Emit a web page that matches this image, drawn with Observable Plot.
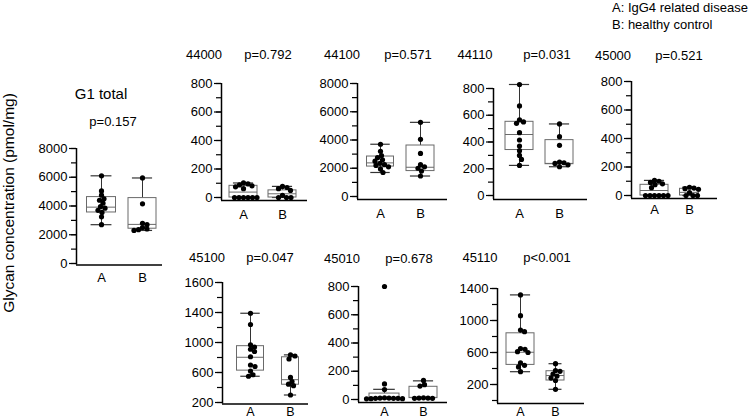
<!DOCTYPE html>
<html><head><meta charset="utf-8">
<script src="https://cdn.jsdelivr.net/npm/d3@7"></script>
<script src="https://cdn.jsdelivr.net/npm/@observablehq/plot@0.6"></script>
<style>
body{margin:0;background:#fff;font-family:"Liberation Sans",Arial,sans-serif;}
#chart{position:relative;width:750px;height:420px;overflow:hidden;background:#fff;}
#chart svg{position:absolute;left:0;top:0;}
.lbl{position:absolute;white-space:nowrap;color:#000;transform:translate(-50%,-50%);line-height:1;}
</style></head><body><div id="chart"></div>
<script>
// ---------- data ----------
const groups = ["A", "B"];
const panelNames = ["G1 total", "44000", "44100", "44110", "45000", "45100", "45010", "45110"];
const pValues = ["p=0.157", "p=0.792", "p=0.571", "p=0.031", "p=0.521", "p=0.047", "p=0.678", "p<0.001"];
const legendLines = ["A: IgG4 related disease", "B: healthy control"];
const yTitle = "Glycan concentration (pmol/mg)";

// individual points (pmol/mg)
const g1total_A = [6100, 5050, 4750, 4500, 4400, 4200, 3950, 3850, 3700, 3550, 3250, 2700];
const g1total_B = [5950, 4150, 2800, 2700, 2500, 2400, 2350, 2300];
const g44000_A = [102, 95, 88, 82, 75, 62, 0, 0, 0, 0, 0, 0];
const g44000_B = [78, 70, 62, 50, 15, 0, 0, 0];
const g44100_A = [3700, 3200, 2900, 2750, 2600, 2500, 2350, 2250, 2200, 2100, 1950, 1700];
const g44100_B = [5250, 4050, 3050, 2250, 2100, 2000, 1800, 1450];
const g44110_A = [830, 670, 565, 550, 540, 470, 415, 370, 335, 300, 270, 225];
const g44110_B = [535, 440, 375, 250, 245, 240, 230, 215];
const g45000_A = [106, 100, 92, 82, 76, 55, 0, 0, 0, 0, 0, 0];
const g45000_B = [58, 52, 48, 44, 20, 0, 0, 0];
const g45100_A = [1390, 1240, 970, 940, 910, 880, 810, 700, 680, 620, 570, 550];
const g45100_B = [835, 820, 780, 535, 480, 445, 425, 300];
const g45010_A = [800, 110, 70, 12, 10, 10, 8, 8, 8, 6, 6, 5];
const g45010_B = [135, 105, 95, 12, 10, 10, 8, 8];
const g45110_A = [1320, 1060, 880, 860, 650, 640, 610, 600, 470, 440, 420, 360];
const g45110_B = [460, 375, 365, 330, 305, 280, 250, 140];

// box statistics [whisker low, Q1, median, Q3, whisker high]
const box_g1total = [[2700, 3550, 3920, 4620, 6100], [2300, 2420, 2720, 4550, 5950]];
const box_44000 = [[0, 0, 38, 82, 102], [0, 0, 26, 50, 78]];
const box_44100 = [[1700, 2120, 2380, 2830, 3700], [1450, 1800, 2070, 3610, 5250]];
const box_44110 = [[225, 340, 456, 551, 830], [215, 234, 240, 414, 535]];
const box_45000 = [[0, 0, 35, 75, 106], [0, 0, 22, 47, 58]];
const box_45100 = [[550, 625, 803, 951, 1390], [300, 437, 504, 803, 835]];
const box_45010 = [[5, 7, 10, 42, 72], [8, 10, 15, 90, 132]];
const box_45110 = [[360, 445, 603, 840, 1320], [140, 250, 312, 366, 460]];

// y axes
const yDomain_8000 = [0, 8000];
const yDomain_800 = [0, 800];
const yDomain_45100 = [200, 1800];
const yDomain_45110 = [0, 1400];
const yTicks_8000 = [0, 1000, 2000, 3000, 4000, 5000, 6000, 7000, 8000];
const yLabels_8000 = [0, 2000, 4000, 6000, 8000];
const yTicks_800 = [0, 100, 200, 300, 400, 500, 600, 700, 800];
const yLabels_800 = [0, 200, 400, 600, 800];
const yTicks_45100 = [200, 400, 600, 800, 1000, 1200, 1400, 1600, 1800];
const yLabels_45100 = [200, 600, 1000, 1400, 1800];
const yLabelText_45100 = ["200", "600", "1000", "1400", "1600"];
const yTicks_45110 = [0, 200, 400, 600, 800, 1000, 1200, 1400];
const yLabels_45110 = [200, 600, 1000, 1400];

const panels = [
  {points: [g1total_A, g1total_B], box: box_g1total, yDomain: yDomain_8000, ticks: yTicks_8000, labels: yLabels_8000},
  {points: [g44000_A, g44000_B], box: box_44000, yDomain: yDomain_800, ticks: yTicks_800, labels: yLabels_800},
  {points: [g44100_A, g44100_B], box: box_44100, yDomain: yDomain_8000, ticks: yTicks_8000, labels: yLabels_8000},
  {points: [g44110_A, g44110_B], box: box_44110, yDomain: yDomain_800, ticks: yTicks_800, labels: yLabels_800},
  {points: [g45000_A, g45000_B], box: box_45000, yDomain: yDomain_800, ticks: yTicks_800, labels: yLabels_800},
  {points: [g45100_A, g45100_B], box: box_45100, yDomain: yDomain_45100, ticks: yTicks_45100, labels: yLabels_45100, labelText: yLabelText_45100},
  {points: [g45010_A, g45010_B], box: box_45010, yDomain: yDomain_800, ticks: yTicks_800, labels: yLabels_800},
  {points: [g45110_A, g45110_B], box: box_45110, yDomain: yDomain_45110, ticks: yTicks_45110, labels: yLabels_45110}
];

// ---------- layout (pixels) ----------
const layout = [
  {left: 76, right: 162, top: 148, bottom: 263, xA: 101, xB: 142, boxW: [29, 28], pad: 9, off: 1.5, fs: 13,
   name: [101, 93, 15], p: [113, 121]},
  {left: 221, right: 307, top: 83, bottom: 197, xA: 243, xB: 282, boxW: [28, 28], pad: 12, off: 3, fs: 13, name: [204, 54, 13], p: [268, 54]},
  {left: 357, right: 447, top: 83, bottom: 196, xA: 380, xB: 420, boxW: [27, 28], pad: 12, off: 3, fs: 13, name: [342, 54, 13], p: [408, 54]},
  {left: 493, right: 587, top: 88, bottom: 195, xA: 519, xB: 559, boxW: [28, 28], pad: 13, off: 4, fs: 13, name: [475, 54, 13], p: [547, 54]},
  {left: 631, right: 717, top: 81, bottom: 195, xA: 654, xB: 689, boxW: [28, 19], pad: 9, off: 3, fs: 13, name: [613, 55, 13], p: [679, 55]},
  {left: 222, right: 308, top: 282, bottom: 402, xA: 250, xB: 290, boxW: [27, 17], pad: 4.5, off: 1.5, fs: 12.5, name: [207, 257, 13], p: [270, 257]},
  {left: 358, right: 447, top: 286, bottom: 399, xA: 384, xB: 423, boxW: [30, 28], pad: 7.5, off: 3, fs: 12.5, name: [342, 258, 13], p: [409, 258]},
  {left: 497, right: 584, top: 288, bottom: 400, xA: 520, xB: 555, boxW: [28, 18], pad: 6.5, off: 3, fs: 12.5, name: [480, 257, 13], p: [547, 257]}
];

const W = 750, H = 420, R = 2.6, D = 4.3;
const chart = document.getElementById("chart");
const FONT = "'Liberation Sans', Arial, sans-serif";

function addLabel(text, x, y, size, extra) {
  const d = document.createElement("div");
  d.className = "lbl";
  d.textContent = text;
  d.style.left = x + "px";
  d.style.top = y + "px";
  d.style.fontSize = size + "px";
  if (extra) Object.assign(d.style, extra);
  chart.appendChild(d);
}

panels.forEach((p, k) => {
  const L = layout[k];
  const step = L.xB - L.xA;
  const xDomain = [1 - (L.xA - L.left) / step, 2 + (L.right - L.xB) / step];
  const yScale = Plot.scale({y: {domain: p.yDomain, range: [L.bottom, L.top]}});

  // deterministic beeswarm (dodge) of the points around each group centre
  const dots = [];
  p.points.forEach((vals, gi) => {
    const placed = [];
    vals.slice().sort((a, b) => b - a).forEach((v) => {
      const py = yScale.apply(v);
      let off = 0;
      for (let j = 0; j < 400; j++) {
        const c = j === 0 ? 0 : (j % 2 ? 1 : -1) * Math.ceil(j / 2) * 0.5;
        if (placed.every((q) => (q.px - c) ** 2 + (q.py - py) ** 2 >= D * D)) { off = c; break; }
      }
      placed.push({px: off, py});
      dots.push({x: gi + 1 + off / step, y: v});
    });
  });

  const boxes = p.box.map((b, gi) => {
    const hw = L.boxW[gi] / 2 / step;
    const cw = hw * 0.72;
    return {x: gi + 1, x1: gi + 1 - hw, x2: gi + 1 + hw, c1: gi + 1 - cw, c2: gi + 1 + cw,
            lo: b[0], q1: b[1], med: b[2], q3: b[3], hi: b[4]};
  });

  const yBottom = p.yDomain[0], yTop = p.yDomain[1];
  const labelText = (d) => p.labelText ? p.labelText[p.labels.indexOf(d)] : String(d);

  const svg = Plot.plot({
    width: W, height: H,
    marginLeft: L.left, marginRight: W - L.right, marginTop: L.top, marginBottom: H - L.bottom,
    style: {background: "transparent", fontFamily: FONT, overflow: "visible", color: "#000"},
    x: {domain: xDomain},
    y: {domain: p.yDomain},
    marks: [
      // whiskers
      Plot.ruleX(boxes, {x: "x", y1: "lo", y2: "hi", stroke: "#333", strokeWidth: 1}),
      Plot.ruleY(boxes, {y: "lo", x1: "c1", x2: "c2", stroke: "#333", strokeWidth: 1.2}),
      Plot.ruleY(boxes, {y: "hi", x1: "c1", x2: "c2", stroke: "#333", strokeWidth: 1.2}),
      // box
      Plot.rect(boxes, {x1: "x1", x2: "x2", y1: "q1", y2: "q3", fill: "white", stroke: "#6a6a6a", strokeWidth: 1}),
      Plot.ruleY(boxes, {y: "med", x1: "x1", x2: "x2", stroke: "#6a6a6a", strokeWidth: 1}),
      // points
      Plot.dot(dots, {x: "x", y: "y", r: R, fill: "#000", stroke: "none"}),
      // axes
      Plot.ruleX([xDomain[0]], {y1: yTop, y2: yBottom, insetBottom: -L.off, stroke: "#000", strokeWidth: 1.5}),
      Plot.ruleY([yBottom], {x1: xDomain[0], x2: xDomain[1], dy: L.off, stroke: "#000", strokeWidth: 1.5}),
      Plot.axisY({ticks: p.ticks, tickSize: 5, tickFormat: () => "", label: null, strokeWidth: 1.2}),
      Plot.axisY({ticks: p.labels, tickSize: 7, tickPadding: 2, tickFormat: labelText, label: null,
                  fontSize: 13, strokeWidth: 1.2}),
      Plot.axisX({ticks: [1, 2], tickFormat: (d) => groups[d - 1], tickSize: 0, tickPadding: L.pad,
                  label: null, fontSize: L.fs})
    ]
  });
  chart.appendChild(svg);

  addLabel(panelNames[k], L.name[0], L.name[1], L.name[2]);
  addLabel(pValues[k], L.p[0], L.p[1], 13);
});

addLabel(yTitle, 9, 203, 15.5, {transform: "translate(-50%,-50%) rotate(-90deg)"});
legendLines.forEach((t, i) => addLabel(t, 612, [7, 24][i], 13, {transform: "translate(0,-50%)"}));
</script></body></html>
